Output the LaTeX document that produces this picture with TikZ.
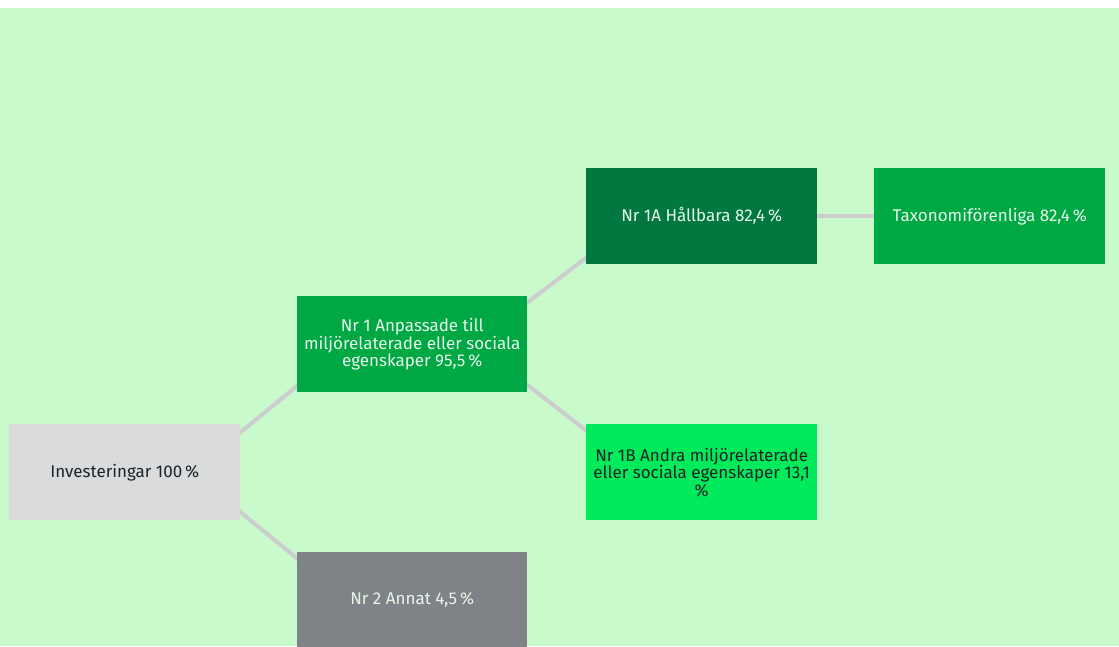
\documentclass[tikz,border=0pt]{standalone}
\usepackage{fontspec}
\setmainfont{Fira Sans}
\usetikzlibrary{calc}
\pgfdeclarelayer{bglayer}
\pgfdeclarelayer{linklayer}
\pgfsetlayers{bglayer,linklayer,main}
\definecolor{bgc}{HTML}{C8FACC}
\definecolor{invc}{HTML}{DADBDD}
\definecolor{midgreen}{HTML}{00A844}
\definecolor{darkgreen}{HTML}{007840}
\definecolor{brightgreen}{HTML}{00EB5B}
\definecolor{greyc}{HTML}{7F8387}
\definecolor{linkc}{HTML}{CDCDCD}
\definecolor{lighttext}{HTML}{E6F7EA}
\definecolor{darktext}{HTML}{1E2326}
\begin{document}
\begin{tikzpicture}[x=1pt,y=-1pt,
  box/.style={anchor=north west, minimum width=231pt, minimum height=96pt, inner sep=1pt,
    align=center, font=\fontsize{17}{17.5}\selectfont},
  link/.style={draw=linkc, line width=4pt}]
\useasboundingbox (0,0) rectangle (1119,646);
\begin{pgfonlayer}{bglayer}
\fill[white] (0,0) rectangle (1119,646);
\fill[bgc] (0,8) rectangle (1119,646);
\end{pgfonlayer}

\node[box, fill=invc, text=darktext] (inv) at (9,424) {Investeringar 100\,\%};
\node[box, fill=midgreen, text=lighttext, minimum width=230pt] (nr1) at (297,296) {Nr 1 Anpassade till\\miljörelaterade eller sociala\\egenskaper 95,5\,\%};
\node[box, fill=darkgreen, text=lighttext] (nr1a) at (586,168) {Nr 1A Hållbara 82,4\,\%};
\node[box, fill=midgreen, text=lighttext] (tax) at (874,168) {Taxonomiförenliga 82,4\,\%};
\node[box, fill=brightgreen, text=darktext] (nr1b) at (586,424) {Nr 1B Andra miljörelaterade\\eller sociala egenskaper 13,1\\\%};
\node[box, fill=greyc, text=lighttext, minimum width=230pt] (nr2) at (297,552) {Nr 2 Annat 4,5\,\%};

\begin{pgfonlayer}{linklayer}
\draw[link] ($(inv.north east)+(-2,10)$) -- ($(nr1.south west)+(2,-8)$);
\draw[link] ($(inv.south east)+(-2,-10)$) -- ($(nr2.north west)+(2,8)$);
\draw[link] ($(nr1.north east)+(-2,8)$) -- ($(nr1a.south west)+(2,-8)$);
\draw[link] ($(nr1.south east)+(-2,-9)$) -- ($(nr1b.north west)+(2,8)$);
\draw[link] (nr1a.east) -- (tax.west);
\end{pgfonlayer}
\end{tikzpicture}
\end{document}
